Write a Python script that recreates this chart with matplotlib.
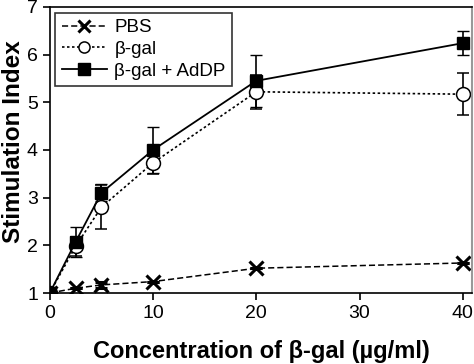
import matplotlib
matplotlib.use("Agg")
import matplotlib.pyplot as plt
from matplotlib.lines import Line2D

plt.rcParams['font.family'] = ['Liberation Sans', 'DejaVu Sans']

# data
conc = [0, 2.5, 5, 10, 20, 40]
pbs = [1.0, 1.10, 1.17, 1.24, 1.52, 1.63]
pbs_err = [0, 0, 0.07, 0, 0, 0]
bgal = [1.0, 1.98, 2.80, 3.73, 5.22, 5.17]
bgal_err = [0, 0.20, 0.46, 0.24, 0.36, 0.44]
addp = [1.0, 2.07, 3.10, 4.00, 5.45, 6.24]
addp_err = [0, 0.31, 0.18, 0.48, 0.54, 0.25]

fig = plt.figure(figsize=(4.74, 3.64), dpi=100)
ax = fig.add_axes([0.105, 0.195, 0.891, 0.786])

pbs_ls = (0, (4, 2))
bgal_ls = (0, (1.5, 1.5))

ax.errorbar(conc, pbs, yerr=pbs_err, color='black', ls=pbs_ls, lw=1.1,
            marker='x', ms=10, mew=2.2, capsize=4.5, elinewidth=1.2)
ax.errorbar(conc, bgal, yerr=bgal_err, color='black', ls=bgal_ls, lw=1.2,
            marker='o', ms=10, mfc='white', mew=1.1, capsize=4.5, elinewidth=1.2)
ax.errorbar(conc, addp, yerr=addp_err, color='black', ls='-', lw=1.3,
            marker='s', ms=9, mfc='black', capsize=4.5, elinewidth=1.2)

ax.set_xlim(0, 40.9)
ax.set_ylim(1, 7)
ax.set_xticks([0, 10, 20, 30, 40])
ax.set_yticks([1, 2, 3, 4, 5, 6, 7])
ax.tick_params(labelsize=14, direction='out', length=5, width=1.2)
for s in ['top', 'bottom', 'left']:
    ax.spines[s].set_linewidth(1.2)
ax.spines['right'].set_color('#999999')
ax.spines['right'].set_linewidth(1.5)

ax.set_xlabel('Concentration of β-gal (µg/ml)', fontsize=17, fontweight='bold')
ax.set_ylabel('Stimulation Index', fontsize=17.5, fontweight='bold')
ax.xaxis.set_label_coords(0.5, -0.165)
ax.yaxis.set_label_coords(-0.058, 0.53)

handles = [
    Line2D([], [], color='black', ls=pbs_ls, lw=1.1, marker='x', ms=8, mew=2.2),
    Line2D([], [], color='black', ls=bgal_ls, lw=1.2, marker='o', ms=8, mfc='white', mew=1.1),
    Line2D([], [], color='black', ls='-', lw=1.3, marker='s', ms=8, mfc='black'),
]
labels = ['PBS', 'β-gal', 'β-gal + AdDP']
leg = ax.legend(handles, labels, loc='upper left', fontsize=13.5, frameon=True,
                fancybox=False, edgecolor='black', handlelength=2.4, borderpad=0.35,
                labelspacing=0.25, handletextpad=0.4, borderaxespad=0.3)
leg.get_frame().set_linewidth(1.2)

fig.savefig('out.png', dpi=100)
